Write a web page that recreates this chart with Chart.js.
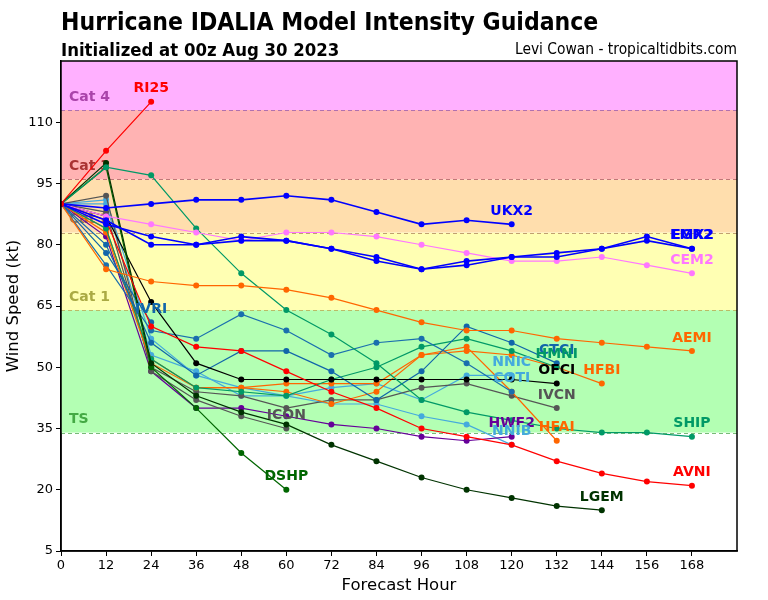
<!DOCTYPE html>
<html>
<head>
<meta charset="utf-8">
<script src="https://cdn.jsdelivr.net/npm/chart.js@4.4.1/dist/chart.umd.min.js"></script>
<style>
  html, body { margin: 0; padding: 0; background: #fff; }
  #wrap { position: relative; width: 768px; height: 600px; }
  #chart { position: absolute; left: 0; top: 0; }
  .txt { position: absolute; font-family: 'DejaVu Sans Condensed', 'DejaVu Sans', sans-serif; font-stretch: condensed; color: #000; white-space: nowrap; line-height: 1; }
  #title { left: 61px; top: 10px; font-size: 24.5px; font-weight: bold; }
  #sub { left: 61px; top: 41px; font-size: 18.4px; font-weight: bold; }
  #credit { right: 31px; top: 42px; font-size: 15.4px; }
</style>
</head>
<body>
<div id="wrap">
  <canvas id="chart" width="768" height="600"></canvas>
  <div class="txt" id="title">Hurricane IDALIA Model Intensity Guidance</div>
  <div class="txt" id="sub">Initialized at 00z Aug 30 2023</div>
  <div class="txt" id="credit">Levi Cowan - tropicaltidbits.com</div>
</div>
<script>
// forecast hours (x)
const HOURS = [0, 12, 24, 36, 48, 60, 72, 84, 96, 108, 120, 132, 144, 156, 168];
const X_TICKS = [0, 12, 24, 36, 48, 60, 72, 84, 96, 108, 120, 132, 144, 156, 168];
const Y_TICKS = [5, 20, 35, 50, 65, 80, 95, 110];

// intensity categories (kt floors)
const BAND_NAMES = ['TS', 'Cat 1', 'Cat 2', 'Cat 3', 'Cat 4'];
const BAND_FLOORS = [34, 64, 83, 96, 113];

// model wind speeds (kt), one value per forecast hour from 0
const RI25 = [90, 103, 115];
const UKX2 = [90, 89, 90, 91, 91, 92, 91, 88, 85, 86, 85];
const EGR2 = [90, 86, 80, 80, 82, 81, 79, 77, 74, 76, 77, 78, 79, 82, 79];
const EMX2 = [90, 85, 82, 80, 81, 81, 79, 76, 74, 75, 77, 77, 79, 81, 79];
const CEM2 = [90, 87, 85, 83, 81, 83, 83, 82, 80, 78, 76, 76, 77, 75, 73];
const AEMI = [90, 74, 71, 70, 70, 69, 67, 64, 61, 59, 59, 57, 56, 55, 54];
const SHIP = [90, 99, 97, 84, 73, 64, 58, 51, 42, 39, 37, 35, 34, 34, 33];
const AVNI = [90, 86, 60, 55, 54, 49, 44, 40, 35, 33, 31, 27, 24, 22, 21];
const LGEM = [90, 100, 51, 43, 39, 36, 31, 27, 23, 20, 18, 16, 15];
const DSHP = [90, 99, 50, 40, 29, 20];
const OFCI = [90, 87, 66, 51, 47, 47, 47, 47, 47, 47, 47, 46];
const IVRI = [90, 78, 61];
const CTCI = [90, 80, 56, 48, 54, 54, 49, 42, 49, 60, 56, 51];
const COTI = [90, 75, 59, 57, 63, 59, 53, 56, 57, 51, 44];
const HMNI = [90, 84, 52, 45, 44, 43, 47, 50, 55, 57, 54, 50];
const HFBI = [90, 84, 52, 45, 45, 46, 46, 46, 53, 54, 53, 50, 46];
const HFAI = [90, 83, 51, 45, 45, 44, 41, 44, 53, 55, 44, 32];
const IVCN = [90, 88, 50, 44, 43, 40, 42, 42, 45, 46, 43, 40];
const ICON = [90, 92, 49, 42, 38, 35];
const HWF2 = [90, 82, 49, 40, 40, 38, 36, 35, 33, 32, 33];
const NNIB = [90, 91, 57, 48, 45, 43, 41, 41, 38, 36, 31];
const NNIC = [90, 90, 53, 49, 43, 43, 45, 46, 42, 48, 48];

// name, line colour, label colour, values
const MODELS = [
  ['RI25', '#ff0000', '#ff0000', RI25],
  ['UKX2', '#0000ff', '#0000ff', UKX2],
  ['EGR2', '#0000ff', '#0000ff', EGR2],
  ['EMX2', '#0000ff', '#0000ff', EMX2],
  ['CEM2', '#ff77ff', '#ff77ff', CEM2],
  ['AEMI', '#ff6600', '#ff6600', AEMI],
  ['SHIP', '#009966', '#009966', SHIP],
  ['AVNI', '#ff0000', '#ff0000', AVNI],
  ['LGEM', '#003300', '#003300', LGEM],
  ['DSHP', '#006600', '#006600', DSHP],
  ['OFCI', '#000000', '#000000', OFCI],
  ['IVRI', '#1166aa', '#1166aa', IVRI],
  ['CTCI', '#1166aa', '#1166aa', CTCI],
  ['COTI', '#1a6fae', '#44aadd', COTI],
  ['HMNI', '#009966', '#009966', HMNI],
  ['HFBI', '#ff6600', '#ff6600', HFBI],
  ['HFAI', '#ff6600', '#ff6600', HFAI],
  ['IVCN', '#555555', '#555555', IVCN],
  ['ICON', '#555555', '#555555', ICON],
  ['HWF2', '#660099', '#660099', HWF2],
  ['NNIB', '#44aadd', '#44aadd', NNIB],
  ['NNIC', '#44aadd', '#44aadd', NNIC]
];

const FONT = "'DejaVu Sans', sans-serif";
const BAND_STYLE = {
  'TS':    { fill: '#b3ffb3', line: '#77bb77', text: '#44aa44' },
  'Cat 1': { fill: '#ffffb3', line: '#bbbb66', text: '#aaaa44' },
  'Cat 2': { fill: '#ffdead', line: '#c0a070', text: '#aa7744' },
  'Cat 3': { fill: '#ffb3b3', line: '#c07777', text: '#aa3333' },
  'Cat 4': { fill: '#ffb0ff', line: '#b070b0', text: '#aa44aa' }
};

// 背景の強度帯
const bandPlugin = {
  id: 'bands',
  beforeDatasetsDraw(chart) {
    const { ctx, chartArea: a, scales: { y } } = chart;
    ctx.save();
    ctx.beginPath();
    ctx.rect(a.left, a.top, a.right - a.left, a.bottom - a.top);
    ctx.clip();
    BAND_NAMES.forEach((name, i) => {
      const top = i + 1 < BAND_FLOORS.length ? BAND_FLOORS[i + 1] : y.max;
      const yTop = y.getPixelForValue(top);
      const yBot = y.getPixelForValue(BAND_FLOORS[i]);
      ctx.fillStyle = BAND_STYLE[name].fill;
      ctx.fillRect(a.left, yTop, a.right - a.left, yBot - yTop);
    });
    ctx.lineWidth = 1.2;
    ctx.setLineDash([4, 3]);
    BAND_NAMES.forEach((name, i) => {
      const yy = Math.round(y.getPixelForValue(BAND_FLOORS[i])) + 0.5;
      ctx.strokeStyle = BAND_STYLE[name].line;
      ctx.beginPath();
      ctx.moveTo(a.left, yy);
      ctx.lineTo(a.right, yy);
      ctx.stroke();
    });
    ctx.setLineDash([]);
    ctx.font = `bold 14px ${FONT}`;
    ctx.textAlign = 'left';
    ctx.textBaseline = 'middle';
    BAND_NAMES.forEach((name, i) => {
      ctx.fillStyle = BAND_STYLE[name].text;
      ctx.fillText(name, a.left + 8, y.getPixelForValue(BAND_FLOORS[i]) - 13);
    });
    ctx.restore();
  }
};

// モデル名ラベルと枠線
const labelPlugin = {
  id: 'modelLabels',
  afterDatasetsDraw(chart) {
    const { ctx, chartArea: a } = chart;
    ctx.save();
    ctx.font = `bold 14px ${FONT}`;
    ctx.textAlign = 'center';
    ctx.textBaseline = 'middle';
    chart.data.datasets.forEach((ds, i) => {
      const pts = chart.getDatasetMeta(i).data;
      const last = pts[pts.length - 1];
      if (!last) return;
      ctx.fillStyle = ds.labelColor;
      ctx.fillText(ds.label, last.x, last.y - 13);
    });
    ctx.lineWidth = 1.5;
    ctx.strokeStyle = '#000';
    ctx.strokeRect(a.left, a.top, a.right - a.left, a.bottom - a.top);
    ctx.restore();
  }
};

const datasets = MODELS.map(([name, color, labelColor, vals]) => ({
  label: name,
  labelColor,
  data: vals.map((v, i) => ({ x: HOURS[i], y: v })),
  borderColor: color,
  backgroundColor: color,
  pointBackgroundColor: color,
  pointBorderWidth: 0,
  pointRadius: 3,
  borderWidth: color === '#0000ff' ? 1.6 : 1.2,
  tension: 0,
  fill: false
}));

new Chart(document.getElementById('chart'), {
  type: 'line',
  data: { datasets },
  options: {
    responsive: false,
    animation: false,
    events: [],
    layout: { padding: { top: 61, right: 31, left: 0, bottom: 0 } },
    plugins: { legend: { display: false }, tooltip: { enabled: false } },
    scales: {
      x: {
        type: 'linear',
        min: 0,
        max: 180,
        afterFit: s => { s.height = 49; },
        afterBuildTicks: s => { s.ticks = X_TICKS.map(v => ({ value: v })); },
        ticks: { color: '#000', font: { family: FONT, size: 13 }, padding: 2, maxRotation: 0 },
        grid: { drawOnChartArea: false, color: '#000', tickLength: 5 },
        border: { color: '#000', width: 1.5 },
        title: { display: true, text: 'Forecast Hour', color: '#000', font: { family: FONT, size: 16.5 }, padding: { top: 2 } }
      },
      y: {
        type: 'linear',
        min: 5,
        max: 125,
        afterFit: s => { s.width = 61; },
        afterBuildTicks: s => { s.ticks = Y_TICKS.map(v => ({ value: v })); },
        ticks: { color: '#000', font: { family: FONT, size: 13 }, padding: 3 },
        grid: { drawOnChartArea: false, color: '#000', tickLength: 5 },
        border: { color: '#000', width: 1.5 },
        title: { display: true, text: 'Wind Speed (kt)', color: '#000', font: { family: FONT, size: 16.5 }, padding: { bottom: 0 } }
      }
    }
  },
  plugins: [bandPlugin, labelPlugin]
});
</script>
</body>
</html>
